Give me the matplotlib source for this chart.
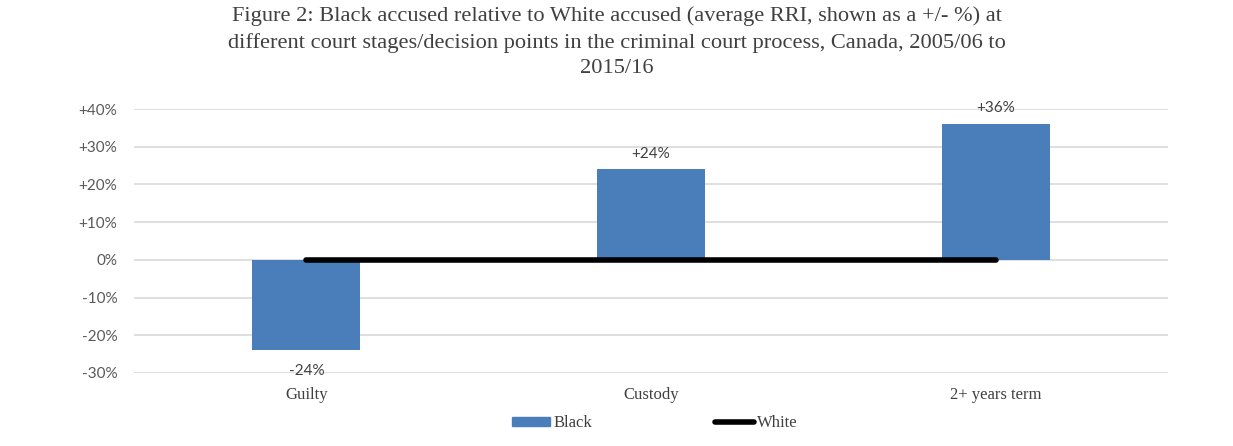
import matplotlib.pyplot as plt
import numpy as np
from matplotlib.lines import Line2D
from matplotlib.patches import Patch

# data
stages = ['Guilty', 'Custody', '2+ years term']
black = [-24, 24, 36]
white = [0, 0, 0]
yticks = [-30, -20, -10, 0, 10, 20, 30, 40]

title = ('Figure 2: Black accused relative to White accused (average RRI, shown as a +/- %) at\n'
         'different court stages/decision points in the criminal court process, Canada, 2005/06 to\n'
         '2015/16')

fig = plt.figure(figsize=(12.33, 4.46), dpi=100)
ax = fig.add_axes([0.1087, 0.1637, 0.8386, 0.5919])

x = np.arange(len(stages))
ax.bar(x, black, width=0.313, color='#4a7ebb', zorder=2)
ax.plot(x, white, color='black', lw=4, solid_capstyle='round', zorder=3)

for xi, v in zip(x, black):
    lbl = f'{v:+d}%' if v > 0 else f'{v}%'
    off = 2.3 if v > 0 else -3.5
    ax.text(xi, v + off, lbl, ha='center', va='bottom' if v > 0 else 'top',
            fontsize=11, color='#404040', family='Lato')

ax.set_xlim(-0.5, 2.5)
ax.set_ylim(-30, 40)
ax.set_yticks(yticks)
ax.set_yticklabels([f'+{t}%' if t > 0 else f'{t}%' for t in yticks],
                   family='Lato', fontsize=11, color='#595959')
ax.set_xticks(x)
ax.set_xticklabels(stages, family='Liberation Serif', fontsize=12, color='#404040')
ax.tick_params(length=0)
ax.tick_params(axis='y', pad=12)
ax.tick_params(axis='x', pad=10)
ax.grid(axis='y', color='#d9d9d9', lw=1.2, zorder=0)
for s in ax.spines.values():
    s.set_visible(False)

fig.text(0.5, 0.985, title, ha='center', va='top', fontsize=16.1,
         family='Liberation Serif', color='#404040', linespacing=1.45)

handles = [Patch(color='#4a7ebb', label='Black'),
           Line2D([0], [0], color='black', lw=4, solid_capstyle='round', label='White')]
leg = fig.legend(handles=handles, loc='center', bbox_to_anchor=(0.531, 0.051), ncol=2,
                 frameon=False, prop={'family': 'Liberation Serif', 'size': 12},
                 handlelength=2.3, handleheight=0.5, columnspacing=7.4, handletextpad=0.2)
for t in leg.get_texts():
    t.set_color('#404040')

fig.savefig('out.png', dpi=100)
